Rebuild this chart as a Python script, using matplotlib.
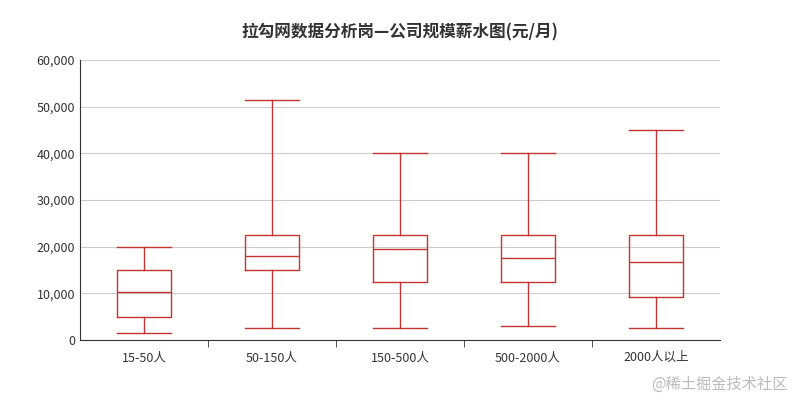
import matplotlib
matplotlib.use("Agg")
import matplotlib.pyplot as plt
from matplotlib.ticker import FuncFormatter

plt.rcParams['font.family'] = ['Noto Sans CJK SC', 'DejaVu Sans']

categories = ["15-50人", "50-150人", "150-500人", "500-2000人", "2000人以上"]
whislo = [1500, 2500, 2500, 3000, 2500]
q1 = [5000, 15000, 12500, 12500, 9200]
med = [10300, 18000, 19500, 17500, 16700]
q3 = [15000, 22500, 22500, 22500, 22500]
whishi = [20000, 51500, 40000, 40000, 45000]

color = "#c23531"
stats = [dict(label=c, whislo=a, q1=b, med=m, q3=d, whishi=e, fliers=[])
         for c, a, b, m, d, e in zip(categories, whislo, q1, med, q3, whishi)]

fig = plt.figure(figsize=(8, 4), dpi=100)
ax = fig.add_axes([0.1, 0.15, 0.8, 0.70])
ax.bxp(stats, positions=range(len(categories)), widths=0.42, showfliers=False,
       boxprops=dict(color=color, linewidth=1),
       medianprops=dict(color=color, linewidth=1),
       whiskerprops=dict(color=color, linewidth=1),
       capprops=dict(color=color, linewidth=1), capwidths=0.42)

ax.set_xlim(-0.5, len(categories) - 0.5)
ax.set_ylim(0, 60000)
ax.set_yticks(range(0, 60001, 10000))
ax.yaxis.set_major_formatter(FuncFormatter(lambda v, p: f"{int(v):,}"))
ax.set_xticks([i + 0.5 for i in range(len(categories) - 1)], minor=True)
ax.set_xticks(range(len(categories)))
ax.set_xticklabels(categories)
ax.tick_params(axis="x", which="major", length=0, labelsize=9, colors="#333333", pad=8)
ax.tick_params(axis="x", which="minor", length=5, color="#333333")
ax.tick_params(axis="y", length=0, labelsize=9, colors="#333333")
ax.grid(axis="y", color="#cccccc", linewidth=0.8)
ax.set_axisbelow(True)
for s in ["top", "right"]:
    ax.spines[s].set_visible(False)
ax.spines["left"].set_color("#333333")
ax.spines["bottom"].set_color("#333333")

fig.text(0.5, 0.92, "拉勾网数据分析岗—公司规模薪水图(元/月)", ha="center", va="center",
         fontsize=12, fontweight="bold", color="#333333")
fig.text(0.985, 0.04, "@稀土掘金技术社区", ha="right", va="center", fontsize=11, color="#bbbbbb")

fig.savefig("out.png", dpi=100)
